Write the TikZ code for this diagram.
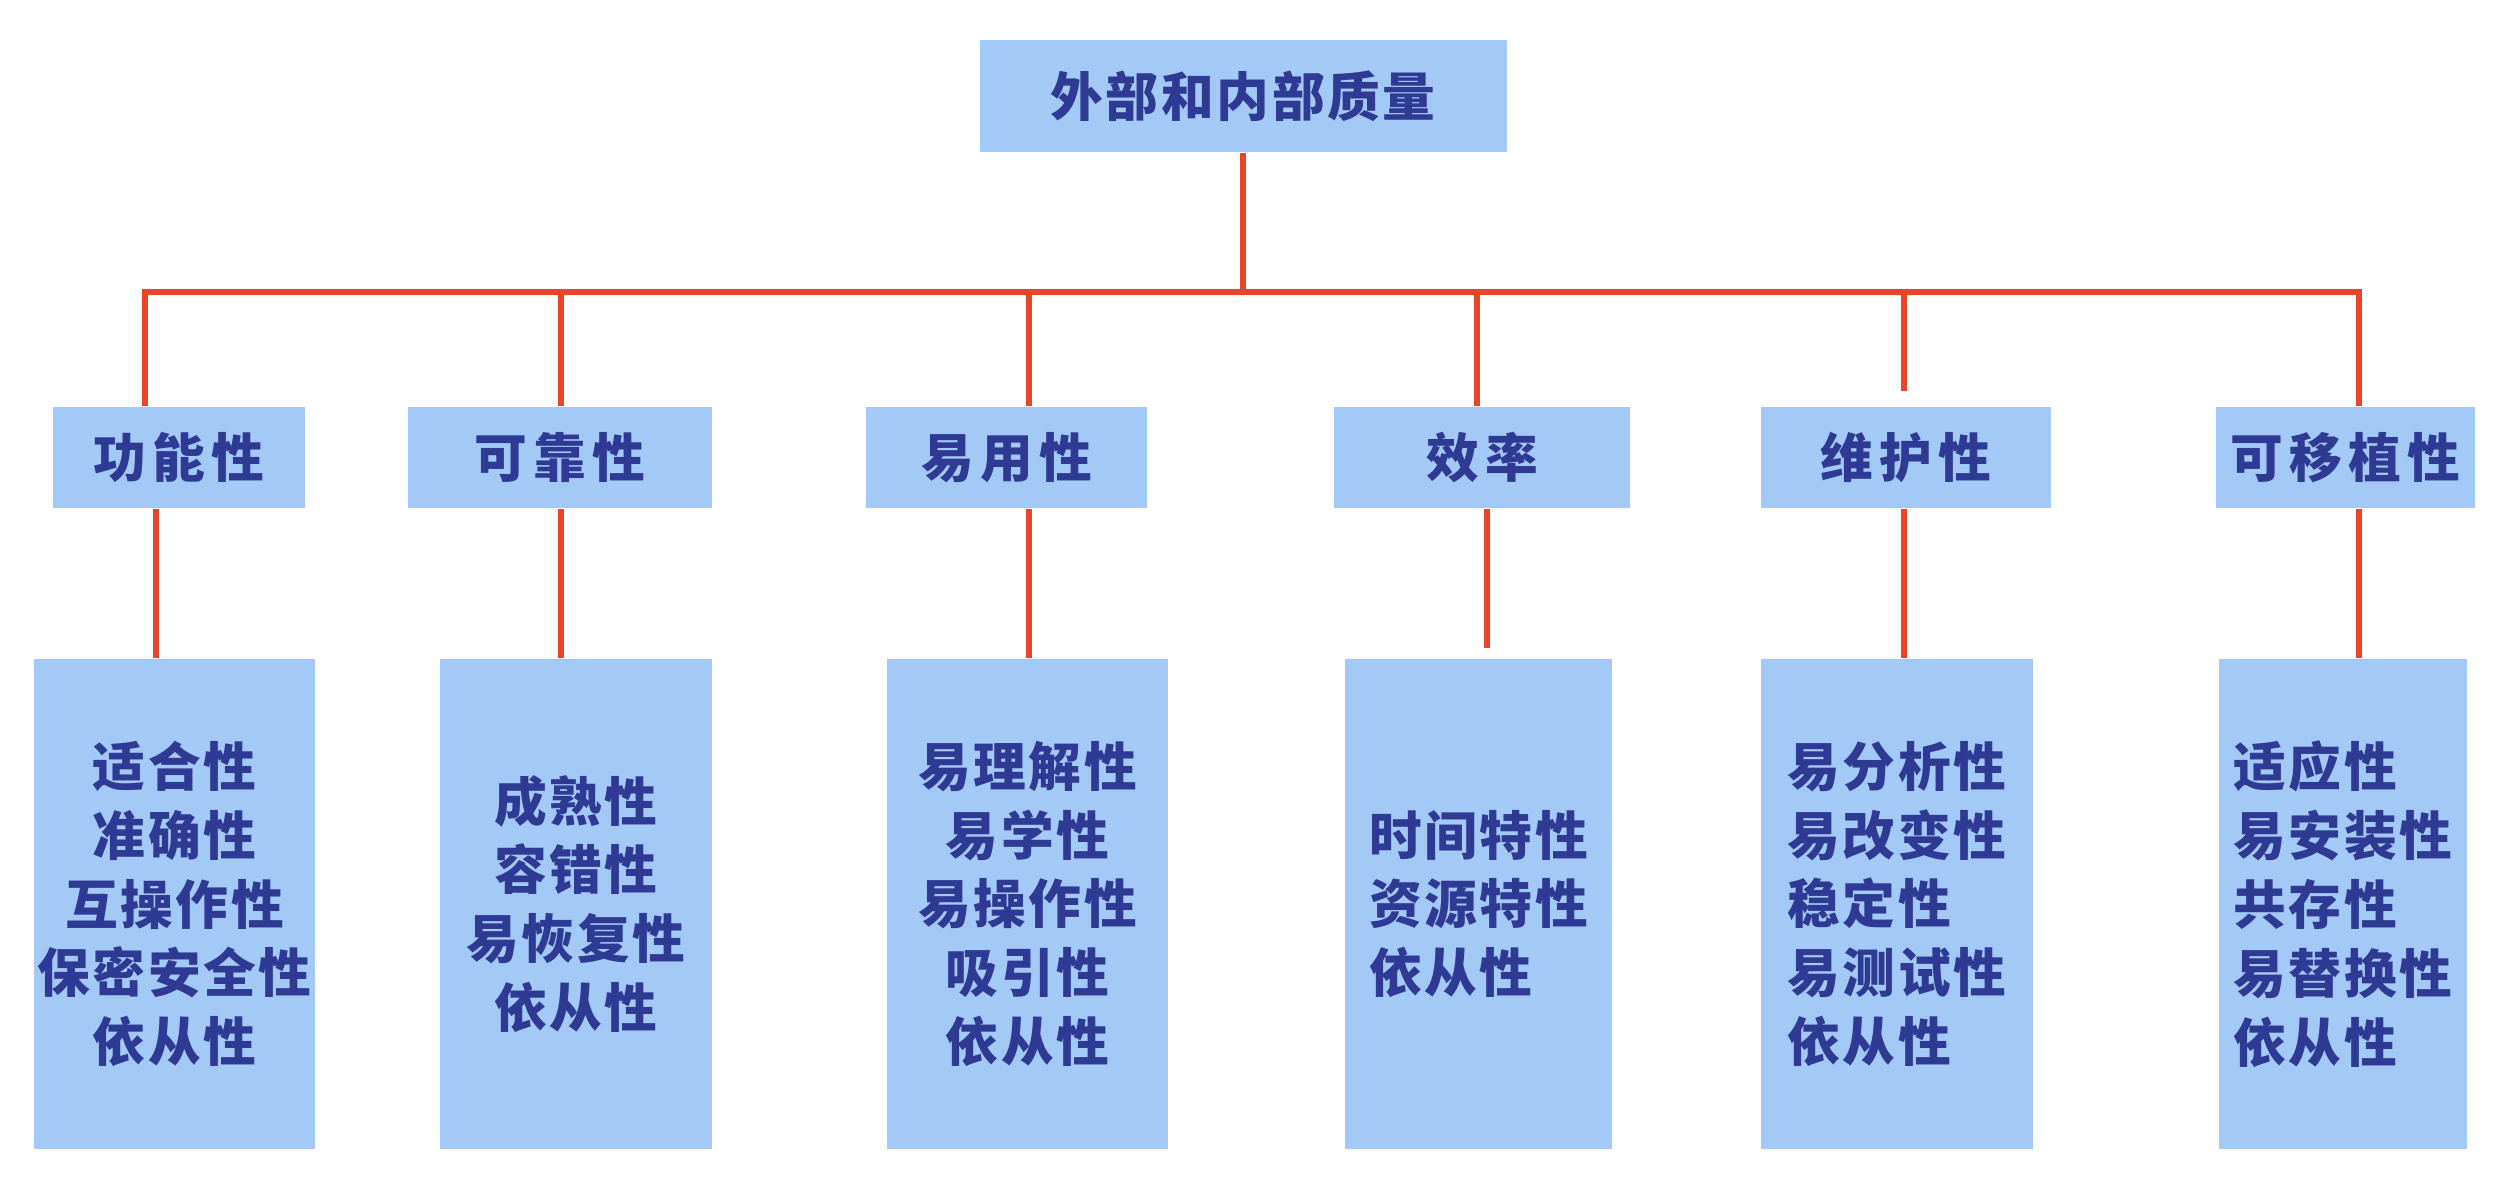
\documentclass[tikz,border=0pt]{standalone}
\usepackage{fontspec}
\setmainfont{Noto Sans CJK SC}[LetterSpace=5]
\usetikzlibrary{calc}
\definecolor{boxblue}{HTML}{A3C9F7}
\definecolor{txtblue}{HTML}{2E3A93}
\definecolor{linered}{HTML}{E8462A}
\tikzset{
	qbox/.style={fill=boxblue,inner sep=0pt,text=txtblue,font=\bfseries\fontsize{15}{19.6}\selectfont},
	qwide/.style={qbox,font=\bfseries\fontsize{15}{19.6}\selectfont\addfontfeature{LetterSpace=12}},
	qline/.style={draw=linered,line width=1.8pt}
}
\begin{document}
\begin{tikzpicture}
	\useasboundingbox (0,0) rectangle (25.2,11.9);
	\node[qbox,minimum width=5.27cm,minimum height=1.12cm] (Q) at (12.43,10.94) {外部和内部质量};
	% characteristics
	\foreach \n/\x/\w/\t in {A/1.79/2.52/功能性,B/5.60/3.04/可靠性,C/10.065/2.81/易用性,D/14.82/2.96/效率,E/19.06/2.90/维护性,F/23.455/2.59/可移植性}
		\node[qwide,minimum width=\w cm,minimum height=1.01cm] (\n) at (\x,7.325) {\t};
	% sub-characteristics
	\foreach \n/\x/\w/\a/\t in {a/1.745/2.81/center/{适合性\\准确性\\互操作性\\保密安全性\\依从性},
		b/5.76/2.72/center/{成熟性\\容错性\\易恢复性\\依从性},
		c/10.275/2.81/center/{易理解性\\易学性\\易操作性\\吸引性\\依从性},
		d/14.785/2.67/left/{时间特性\\资源特性\\依从性},
		e/18.97/2.72/left/{易分析性\\易改变性\\稳定性\\易测试性\\依从性},
		f/23.43/2.48/left/{适应性\\易安装性\\共存性\\易替换性\\依从性}}
		\node[qbox,minimum width=\w cm,minimum height=4.9cm,align=\a] (\n) at (\x,2.86) {\t};
	\path
	(1.45,8.98) coordinate (jA)
	(5.61,8.98) coordinate (jB)
	(10.29,8.98) coordinate (jC)
	(14.77,8.98) coordinate (jD)
	(19.04,8.98) coordinate (jE)
	(23.59,8.98) coordinate (jF)
	;
	\draw[qline] (Q.south) -- (Q.south |- jA);
	\draw[qline] (A.north -| jA) -- (jA) -- (jF) -- (F.north -| jF);
	\foreach \n/\s in {B/0,C/0,D/0,E/.15} \draw[qline,shorten >=\s cm] (j\n) -- (\n.north -| j\n);
	\foreach \n/\l/\x/\s in {A/a/1.56/0,B/b/5.61/0,C/c/10.29/0,D/d/14.87/.1,E/e/19.04/0,F/f/23.59/0}{
		\coordinate (k\n) at (\x,0);
		\draw[qline,shorten >=\s cm] (\n.south -| k\n) -- (\l.north -| k\n);
	}
\end{tikzpicture}
\end{document}
